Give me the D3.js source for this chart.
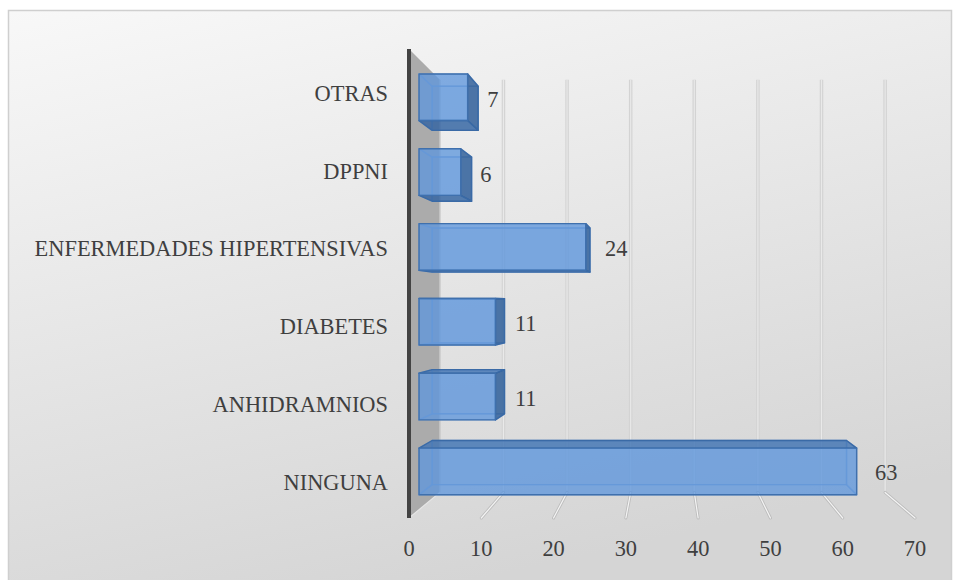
<!DOCTYPE html>
<html>
<head>
<meta charset="utf-8">
<script src="https://cdnjs.cloudflare.com/ajax/libs/d3/7.8.5/d3.min.js"></script>
<style>
  body { margin: 0; background: #ffffff; }
  text { font-family: "Liberation Serif", "Times New Roman", serif; fill: #3f3f3f; }
</style>
</head>
<body>
<div id="chart"></div>
<script>
var width = 956;
var height = 580;

// data, top to bottom as in the chart
var categories = ["OTRAS", "DPPNI", "ENFERMEDADES HIPERTENSIVAS", "DIABETES", "ANHIDRAMNIOS", "NINGUNA"];
var values = [7, 6, 24, 11, 11, 63];
var ticks = [0, 10, 20, 30, 40, 50, 60, 70];

// 3d setup: everything is laid out on the front plane then pulled toward the vanishing point
var VX = 666, VY = 305;
var sBack = 0.88, sBar1 = 0.961, sBar2 = 0.91, sLabel = 0.958;

function proj(x, y, s) {
    return [VX + (x - VX) * s, VY + (y - VY) * s];
}

var xScale = d3.scaleLinear()
    .domain([0, 70])
    .range([409, 915]);

var yScale = d3.scaleBand()
    .domain(categories)
    .range([49, 518])
    .paddingInner(0.377)
    .paddingOuter(0.2);

var svg = d3.select("#chart")
    .append("svg")
    .attr("width", width)
    .attr("height", height);

var defs = svg.append("defs");
var grad = defs.append("linearGradient")
    .attr("id", "bg")
    .attr("x1", 0).attr("y1", 0)
    .attr("x2", 0.35).attr("y2", 1);
grad.append("stop").attr("offset", "0%").attr("stop-color", "#f8f8f8");
grad.append("stop").attr("offset", "100%").attr("stop-color", "#d5d5d5");

// chart area frame
svg.append("rect")
    .attr("x", 8.5)
    .attr("y", 10.5)
    .attr("width", 943)
    .attr("height", 600)
    .attr("fill", "url(#bg)")
    .attr("stroke", "#cfcfcf")
    .attr("stroke-width", 1.5);

var line = d3.line();

// back wall gridlines
var gridTicks = ticks.filter(function(t) { return t > 0; });
gridTicks.forEach(function(t) {
    var p1 = proj(xScale(t), yScale.range()[0], sBack);
    var p2 = proj(xScale(t), yScale.range()[1], sBack);
    svg.append("path").attr("d", line([p1, p2]))
        .attr("stroke", "#d3d3d3").attr("stroke-width", 3.5).attr("fill", "none");
    svg.append("path").attr("d", line([p1, p2]))
        .attr("stroke", "#e9e9e9").attr("stroke-width", 1.2).attr("fill", "none");
});

// floor lines
gridTicks.forEach(function(t) {
    var p1 = proj(xScale(t), yScale.range()[1], sBack);
    var p2 = [xScale(t), yScale.range()[1]];
    svg.append("path").attr("d", line([p1, p2]))
        .attr("stroke", "#bdbdbd").attr("stroke-width", 3).attr("fill", "none")
        .attr("stroke-linecap", "round");
    svg.append("path").attr("d", line([p1, p2]))
        .attr("stroke", "#f4f4f4").attr("stroke-width", 1.2).attr("fill", "none")
        .attr("stroke-linecap", "round");
});

// left side wall
var x0 = xScale(0), yTop = yScale.range()[0], yBot = yScale.range()[1];
svg.append("path")
    .attr("d", line([[x0, yTop], proj(x0, yTop, sBack), proj(x0, yBot, sBack), [x0, yBot]]) + "Z")
    .attr("fill", "#ababab");
svg.append("path")
    .attr("d", line([proj(x0, yTop, sBack), proj(x0, yBot, sBack)]))
    .attr("stroke", "#c4c4c4").attr("stroke-width", 1.5);
svg.append("path")
    .attr("d", line([proj(x0, yBot, sBack), [x0, yBot]]))
    .attr("stroke", "#e6e6e6").attr("stroke-width", 1.2);
svg.append("path")
    .attr("d", line([[x0, yTop], [x0, yBot]]))
    .attr("stroke", "#434343").attr("stroke-width", 4);

// bars as transparent boxes
function face(pts, fill, op, stroke, sop) {
    svg.append("path")
        .attr("d", line(pts) + "Z")
        .attr("fill", fill)
        .attr("fill-opacity", op)
        .attr("stroke", stroke)
        .attr("stroke-opacity", sop)
        .attr("stroke-width", 1.4)
        .attr("stroke-linejoin", "round");
}

categories.forEach(function(c, i) {
    var xl = xScale(0), xr = xScale(values[i]);
    var yt = yScale(c), yb = yScale(c) + yScale.bandwidth();
    var f = { tl: proj(xl, yt, sBar1), tr: proj(xr, yt, sBar1), br: proj(xr, yb, sBar1), bl: proj(xl, yb, sBar1) };
    var b = { tl: proj(xl, yt, sBar2), tr: proj(xr, yt, sBar2), br: proj(xr, yb, sBar2), bl: proj(xl, yb, sBar2) };
    var above = (yt + yb) / 2 < VY;
    var rightSeen = xr < VX;

    // hidden faces first
    face([b.tl, b.tr, b.br, b.bl], "#5b92d6", 0.3, "#6f9ad0", 0.7);
    face([f.tl, b.tl, b.bl, f.bl], "#5b92d6", 0.2, "#6f9ad0", 0.6);
    if (above) face([f.tl, f.tr, b.tr, b.tl], "#5b92d6", 0.2, "#6f9ad0", 0.6);
    else face([f.bl, f.br, b.br, b.bl], "#5b92d6", 0.2, "#6f9ad0", 0.6);
    if (!rightSeen) face([f.tr, b.tr, b.br, f.br], "#5b92d6", 0.2, "#6f9ad0", 0.6);

    // visible faces
    if (above) face([f.bl, f.br, b.br, b.bl], "#2f5f9c", 0.75, "#3a6aa6", 1);
    else face([f.tl, f.tr, b.tr, b.tl], "#3f71b0", 0.75, "#3a6aa6", 1);
    if (rightSeen) face([f.tr, b.tr, b.br, f.br], "#2e5c96", 0.8, "#3a6aa6", 1);
    face([f.tl, f.tr, f.br, f.bl], "#5f97dc", 0.72, "#3f70ad", 1);

    // value label
    var lp = proj(xr, yScale(c) + yScale.bandwidth() / 2, sLabel);
    svg.append("text")
        .attr("x", lp[0] + 19)
        .attr("y", lp[1] + 1.5)
        .attr("dy", "0.35em")
        .style("font-size", "22.4px")
        .text(values[i]);
});

// category labels
svg.selectAll(".cat")
    .data(categories)
    .enter()
    .append("text")
    .attr("class", "cat")
    .attr("x", 388)
    .attr("y", function(d) { return yScale(d) + yScale.bandwidth() / 2 + 4; })
    .attr("dy", "0.35em")
    .style("text-anchor", "end")
    .style("font-size", "22.4px")
    .text(function(d) { return d; });

// value axis labels
svg.selectAll(".tick")
    .data(ticks)
    .enter()
    .append("text")
    .attr("class", "tick")
    .attr("x", function(d) { return xScale(d); })
    .attr("y", 556)
    .style("text-anchor", "middle")
    .style("font-size", "22.4px")
    .text(function(d) { return d; });
</script>
</body>
</html>
